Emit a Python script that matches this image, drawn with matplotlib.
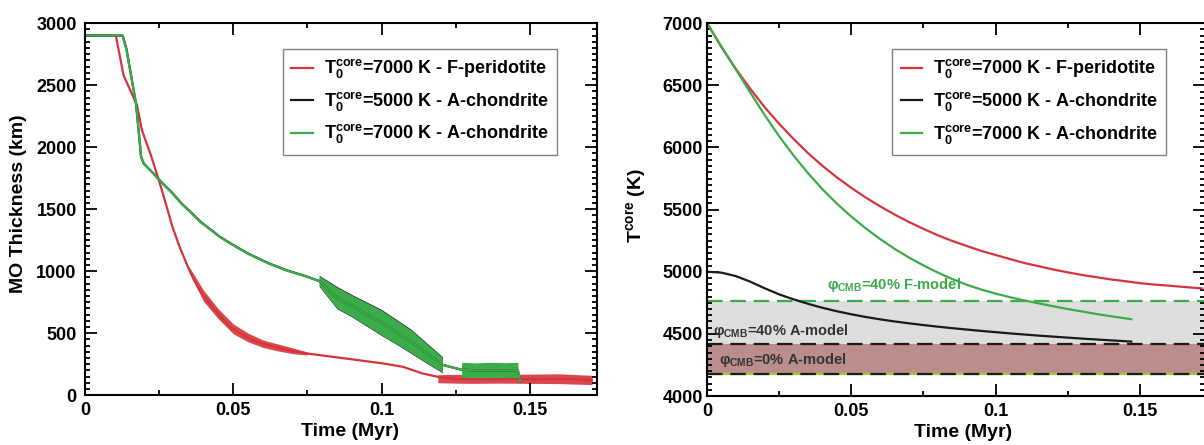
import numpy as np
import matplotlib
matplotlib.use('Agg')
import matplotlib.pyplot as plt
from matplotlib.ticker import MultipleLocator

plt.rcParams['font.family'] = ['Liberation Sans', 'DejaVu Sans']
plt.rcParams['font.weight'] = 'bold'
plt.rcParams['mathtext.fontset'] = 'custom'
plt.rcParams['mathtext.rm'] = 'Liberation Sans:bold'
plt.rcParams['mathtext.bf'] = 'Liberation Sans:bold'
plt.rcParams['mathtext.it'] = 'Liberation Sans:bold'

RED = '#d6343c'
GREEN = '#3cab4a'
BLACK = '#1a1a1a'

# ---- left panel: magma ocean thickness (km) vs time (Myr) ----
red_t = [0, 0.0104, 0.0130, 0.0175, 0.0192, 0.0224, 0.0256, 0.0295, 0.032, 0.0347,
         0.0365, 0.0386, 0.041, 0.0438, 0.046, 0.049, 0.052, 0.0555, 0.058, 0.0619,
         0.068, 0.0749, 0.0878, 0.1008, 0.1073, 0.1138, 0.119,
         0.125, 0.135, 0.145, 0.155, 0.165, 0.171]
red_h = [2900, 2900, 2580, 2340, 2137, 1922, 1680, 1357, 1190, 1035,
         940, 847, 770, 686, 625, 551, 505, 457, 430, 403,
         365, 336, 296, 255, 228, 175, 148,
         130, 128, 130, 128, 130, 120]
# noisy envelope of the red curve
red_band_t = [0.035, 0.040, 0.045, 0.050, 0.055, 0.060, 0.065, 0.070, 0.075]
red_band_lo = [1000, 755, 615, 495, 430, 385, 357, 335, 324]
red_band_hi = [1040, 845, 695, 575, 500, 445, 413, 382, 348]
red_tail_t = [0.119, 0.130, 0.140, 0.150, 0.160, 0.171]
red_tail_lo = [100, 95, 97, 95, 93, 85]
red_tail_hi = [165, 170, 167, 170, 172, 160]

blk_t = [0, 0.0127, 0.014, 0.0172, 0.0185, 0.0189, 0.0198, 0.023, 0.026, 0.0295,
         0.0325, 0.036, 0.039, 0.0425, 0.0455, 0.049, 0.055, 0.0619, 0.068, 0.0749,
         0.079, 0.085, 0.09, 0.095, 0.1, 0.105, 0.11, 0.115, 0.1205,
         0.127, 0.132, 0.137, 0.142, 0.146, 0.1468]
blk_h = [2900, 2900, 2790, 2352, 2030, 1922, 1868, 1790, 1712, 1630,
         1547, 1468, 1397, 1333, 1277, 1225, 1142, 1064, 1007, 956,
         920, 785, 720, 652, 585, 510, 432, 342, 245,
         205, 200, 200, 200, 200, 110]
grn_t = blk_t
grn_h = [2900, 2900, 2782, 2352, 2030, 1922, 1868, 1788, 1710, 1626,
         1545, 1465, 1395, 1331, 1275, 1223, 1140, 1062, 1005, 954,
         920, 785, 720, 652, 585, 510, 432, 342, 245,
         205, 200, 200, 200, 200, 110]
grn_band_t = [0.079, 0.085, 0.090, 0.095, 0.100, 0.105, 0.110, 0.115, 0.1205]
grn_band_lo = [880, 700, 635, 560, 485, 415, 340, 265, 185]
grn_band_hi = [960, 870, 805, 745, 685, 605, 525, 420, 305]
grn_tail_t = [0.127, 0.132, 0.137, 0.142, 0.146]
grn_tail_lo = [140, 135, 140, 135, 140]
grn_tail_hi = [265, 260, 265, 262, 265]

# ---- right panel: core temperature (K) vs time (Myr) ----
tr_t = [0, 0.005, 0.01, 0.015, 0.02, 0.025, 0.03, 0.035, 0.04, 0.045,
        0.05, 0.055, 0.06, 0.065, 0.07, 0.075, 0.08, 0.085, 0.09, 0.095,
        0.1, 0.105, 0.11, 0.115, 0.12, 0.125, 0.13, 0.135, 0.14, 0.145,
        0.15, 0.155, 0.16, 0.165, 0.1715]
tr_red = [7000, 6807, 6631, 6472, 6323, 6190, 6068, 5954, 5852, 5759,
          5675, 5597, 5526, 5460, 5400, 5345, 5293, 5248, 5207, 5168,
          5135, 5102, 5070, 5044, 5018, 4995, 4974, 4956, 4938, 4924,
          4908, 4897, 4888, 4878, 4866]
tg_t = [0, 0.005, 0.01, 0.015, 0.02, 0.025, 0.03, 0.035, 0.04, 0.045,
        0.05, 0.055, 0.06, 0.065, 0.07, 0.075, 0.08, 0.085, 0.09, 0.095,
        0.1, 0.105, 0.11, 0.115, 0.12, 0.125, 0.13, 0.135, 0.14, 0.145,
        0.147]
tr_grn = [7000, 6813, 6627, 6442, 6260, 6090, 5935, 5793, 5664, 5548,
          5444, 5349, 5263, 5184, 5114, 5051, 4993, 4941, 4895, 4857,
          4824, 4795, 4769, 4745, 4722, 4700, 4680, 4660, 4642, 4625,
          4618]
tb_t = tg_t
tr_blk = [5000, 4993, 4965, 4920, 4867, 4818, 4778, 4742, 4710, 4682,
          4658, 4636, 4617, 4600, 4585, 4571, 4558, 4546, 4535, 4524,
          4514, 4504, 4495, 4486, 4478, 4470, 4462, 4455, 4448, 4441,
          4438]

phi_F40 = 4765
phi_A40 = 4420
phi_A0 = 4175

labels = [r'$\mathbf{T}_{\mathbf{0}}^{\mathbf{core}}$=7000 K - F-peridotite',
          r'$\mathbf{T}_{\mathbf{0}}^{\mathbf{core}}$=5000 K - A-chondrite',
          r'$\mathbf{T}_{\mathbf{0}}^{\mathbf{core}}$=7000 K - A-chondrite']

fig = plt.figure(figsize=(12.04, 4.45), dpi=100)
ax1 = fig.add_axes([0.0706, 0.112, 0.4253, 0.836])
ax2 = fig.add_axes([0.5872, 0.110, 0.4140, 0.838])

lw = 1.6
ax1.fill_between(red_band_t, red_band_lo, red_band_hi, color=RED, lw=0, alpha=0.9)
ax1.fill_between(red_tail_t, red_tail_lo, red_tail_hi, color=RED, lw=0, alpha=0.9)
ax1.plot(red_t, red_h, color=RED, lw=lw, label=labels[0])
ax1.fill_between(grn_band_t, np.array(grn_band_lo) - 4, np.array(grn_band_hi) + 6, color=BLACK, lw=0)
ax1.plot(blk_t, blk_h, color=BLACK, lw=lw, label=labels[1])
ax1.fill_between(grn_band_t, grn_band_lo, grn_band_hi, color=GREEN, lw=0)
ax1.fill_between(grn_tail_t, grn_tail_lo, grn_tail_hi, color=GREEN, lw=0)
ax1.plot(grn_t, grn_h, color=GREEN, lw=lw, label=labels[2])
ax1.set_ylim(0, 3000)
ax1.set_ylabel('MO Thickness (km)', fontsize=14, fontweight='bold')
ax1.yaxis.set_label_coords(-0.113, 0.516)
ax1.yaxis.set_major_locator(MultipleLocator(500))
ax1.yaxis.set_minor_locator(MultipleLocator(50))

ax2.axhspan(phi_A40, phi_F40, color='#dedede', lw=0)
ax2.axhspan(phi_A0, phi_A40, color='#bc8d8d', lw=0)
ax2.axhline(phi_F40, color=GREEN, lw=1.6, ls=(0, (7, 3.5)))
ax2.axhline(phi_A40, color=BLACK, lw=1.6, ls=(0, (7, 3.5)))
ax2.axhline(phi_A0, color='#9acd32', lw=1.6)
ax2.axhline(phi_A0, color=BLACK, lw=1.6, ls=(0, (7, 3.5)))
ax2.plot(tr_t, tr_red, color=RED, lw=lw, label=labels[0])
ax2.plot(tb_t, tr_blk, color=BLACK, lw=lw, label=labels[1])
ax2.plot(tg_t, tr_grn, color=GREEN, lw=lw, label=labels[2])
ax2.text(0.0417, 4893, r'φ$_{\mathbf{CMB}}$=40% F-model', color=GREEN, fontsize=10.5, va='center')
ax2.text(0.002, 4523, r'φ$_{\mathbf{CMB}}$=40% A-model', color='#333333', fontsize=10.5, va='center')
ax2.text(0.004, 4290, r'φ$_{\mathbf{CMB}}$=0% A-model', color='#333333', fontsize=10.5, va='center')
ax2.set_ylim(4000, 7000)
ax2.set_ylabel(r'$\mathbf{T}^{\mathbf{core}}$ (K)', fontsize=14, fontweight='bold')
ax2.yaxis.set_label_coords(-0.119, 0.512)
ax2.yaxis.set_major_locator(MultipleLocator(500))
ax2.yaxis.set_minor_locator(MultipleLocator(50))

for ax, anchor, ypad, xc in [(ax1, (0.387, 0.930), 6, 0.518), (ax2, (0.372, 0.930), 3, 0.513)]:
    ax.set_xlim(0, 0.1727)
    ax.xaxis.set_minor_locator(MultipleLocator(0.025))
    ax.set_xticks([0, 0.05, 0.1, 0.15])
    ax.set_xticklabels(['0', '0.05', '0.1', '0.15'])
    ax.set_xlabel('Time (Myr)', fontsize=14, fontweight='bold')
    ax.xaxis.set_label_coords(xc, -0.075)
    ax.tick_params(which='both', direction='in', top=True, right=True, labelsize=13, width=1.3)
    ax.tick_params(which='major', length=8.5)
    ax.tick_params(which='minor', length=3.5)
    ax.tick_params(axis='x', pad=5)
    ax.tick_params(axis='y', pad=ypad)
    for s in ax.spines.values():
        s.set_linewidth(1.5)
    leg = ax.legend(loc='upper left', bbox_to_anchor=anchor, borderaxespad=0, fontsize=13,
                    fancybox=False, framealpha=1, edgecolor='#808080', handlelength=1.2,
                    labelspacing=0.5, borderpad=0.45, handletextpad=0.6)
    leg.get_frame().set_linewidth(1.0)

fig.savefig('out.png', dpi=100)
